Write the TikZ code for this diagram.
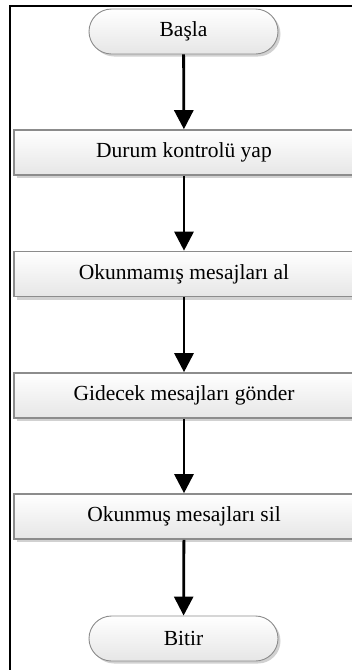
\documentclass[tikz,border=0pt]{standalone}
\usepackage{fontspec}
\setmainfont{Liberation Serif}
\usetikzlibrary{arrows.meta,shapes.misc,shadows}
\definecolor{edgegray}{HTML}{8C8C8C}
\definecolor{fillbottom}{HTML}{E6E6E6}
\tikzset{
  terminal/.style={rounded rectangle, draw=edgegray, line width=0.9pt,
    top color=white, bottom color=fillbottom,
    minimum width=189pt, minimum height=45pt, inner sep=0pt,
    font=\fontsize{21.5}{24}\selectfont,
    drop shadow={shadow xshift=2.5pt, shadow yshift=-2.5pt, opacity=0.18, fill=black}},
  process/.style={rectangle, draw=edgegray, line width=1.6pt,
    top color=white, bottom color=fillbottom,
    minimum width=340pt, minimum height=45pt, inner sep=0pt,
    font=\fontsize{21.5}{24}\selectfont,
    drop shadow={shadow xshift=3pt, shadow yshift=-3pt, opacity=0.18, fill=black}},
  flow/.style={line width=2.8pt, -{Triangle[length=19pt,width=19pt]}},
}
\begin{document}
\begin{tikzpicture}[x=1pt,y=-1pt]
  \clip (0,0) rectangle (352,670);
  \fill[white] (0,0) rectangle (352,670);
  % outer frame (top and left sides)
  \draw[line width=2pt] (10,672) -- (10,6) -- (360,6);
  % flowchart nodes
  \node[terminal] (start) at (183.5,31.5) {Başla};
  \node[process] (check) at (184,152.5) {Durum kontrolü yap};
  \node[process] (fetch) at (184,274) {Okunmamış mesajları al};
  \node[process] (send) at (184,395.5) {Gidecek mesajları gönder};
  \node[process] (del) at (184,516.5) {Okunmuş mesajları sil};
  \node[terminal] (end) at (183.5,638.5) {Bitir};
  % connectors
  \draw[flow] (start) -- (check);
  \draw[flow] (check) -- (fetch);
  \draw[flow] (fetch) -- (send);
  \draw[flow] (send) -- (del);
  \draw[flow] (del) -- (end);
\end{tikzpicture}
\end{document}
